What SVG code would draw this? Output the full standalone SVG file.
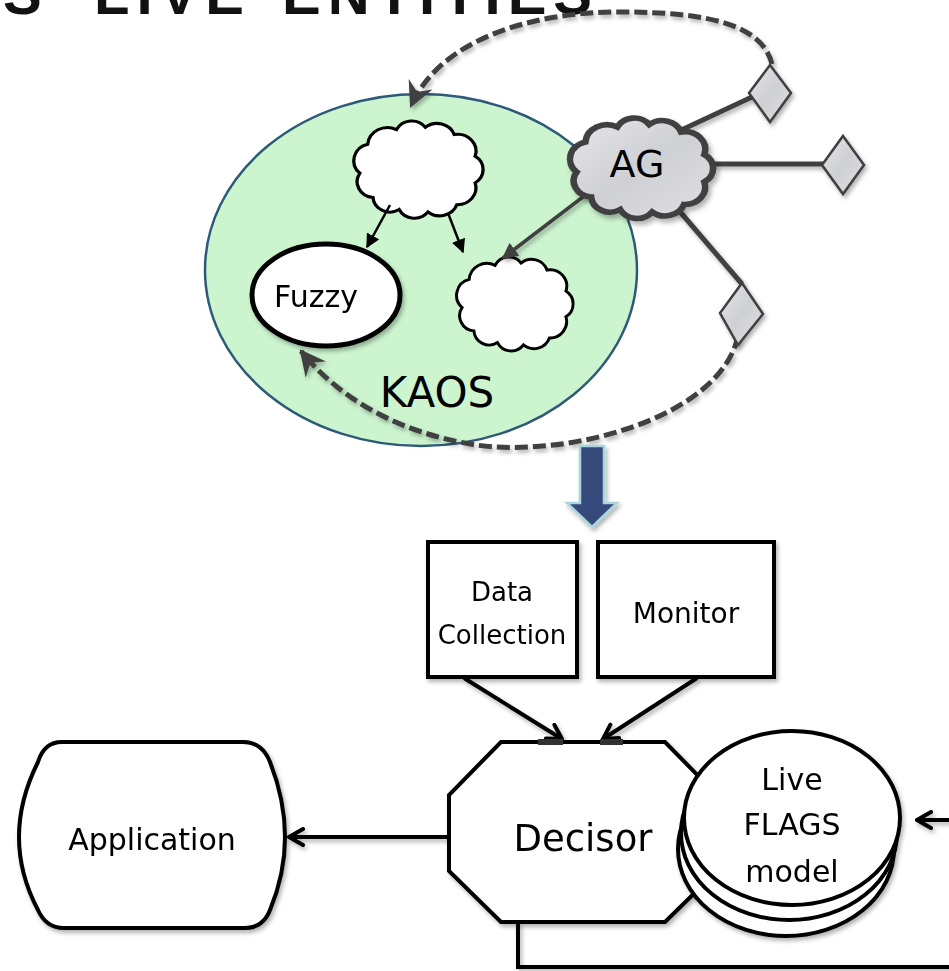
<svg xmlns="http://www.w3.org/2000/svg" width="949" height="971" viewBox="0 0 949 971">
  <style>
    .lbl { font-family: "DejaVu Sans", "Liberation Sans", sans-serif; fill: #000; text-anchor: middle; }
    .box { fill: #fff; stroke: #000; stroke-width: 4; }
    .conn { fill: none; stroke: #000; stroke-width: 4; }
    .agline { fill: none; stroke: #404040; stroke-width: 5; }
    .dash { fill: none; stroke: #404040; stroke-width: 5; stroke-dasharray: 13 5; }
    .marble { fill: url(#marbleFill); stroke: #404040; }
  </style>
  <defs>
    <linearGradient id="marbleFill" x1="0" y1="0" x2="1" y2="1">
      <stop offset="0" stop-color="#e6e6ea"/>
      <stop offset="0.5" stop-color="#cfd0d4"/>
      <stop offset="1" stop-color="#e0e0e4"/>
    </linearGradient>
    <filter id="shadow" x="-10%" y="-10%" width="130%" height="130%">
      <feDropShadow dx="2" dy="3" stdDeviation="2" flood-color="#000" flood-opacity="0.3"/>
    </filter>
    <path id="cloud" d="M6 44 A14 14 0 0 1 12 20 A15 15 0 0 1 34 8 A13 13 0 0 1 56 6 A14 14 0 0 1 78 12 A14 14 0 0 1 94 30 A13 13 0 0 1 94 52 A14 14 0 0 1 80 70 A14 14 0 0 1 58 76 A13 13 0 0 1 36 74 A13 13 0 0 1 16 64 A13 13 0 0 1 6 44 Z"/>
    <marker id="tri" viewBox="0 0 10 10" refX="9" refY="5" markerUnits="userSpaceOnUse" markerWidth="14" markerHeight="14" orient="auto">
      <path d="M0 0 L10 5 L0 10 Z" fill="#000"/>
    </marker>
    <marker id="triGray" viewBox="0 0 10 10" refX="9" refY="5" markerUnits="userSpaceOnUse" markerWidth="16" markerHeight="16" orient="auto">
      <path d="M0 0 L10 5 L0 10 Z" fill="#404040"/>
    </marker>
    <marker id="stealth" viewBox="0 0 12 12" refX="11" refY="6" markerUnits="userSpaceOnUse" markerWidth="26" markerHeight="26" orient="auto">
      <path d="M0 0 L12 6 L0 12 L4 6 Z" fill="#404040"/>
    </marker>
    <marker id="chev" viewBox="0 0 10 10" refX="8.5" refY="5" markerUnits="userSpaceOnUse" markerWidth="20" markerHeight="20" orient="auto">
      <path d="M1.5 1 L8.5 5 L1.5 9" fill="none" stroke="#000" stroke-width="2" stroke-linecap="round" stroke-linejoin="round"/>
    </marker>
  </defs>

  <rect width="949" height="971" fill="#fff"/>

  <!-- slide title, cut by the top edge -->
  <text y="14" font-family="Liberation Sans, sans-serif" font-weight="900" font-size="58" letter-spacing="7" fill="#111"><tspan x="-46">AS</tspan><tspan x="94">LIVE</tspan><tspan x="282">ENTITIES</tspan></text>

  <!-- KAOS goal model -->
  <g id="kaos">
    <ellipse cx="421" cy="270" rx="216" ry="176" fill="#ccf5cf" stroke="#2e5a7a" stroke-width="2.5"/>
    <text class="lbl" x="437" y="407" font-size="42">KAOS</text>
  </g>

  <g id="goal-top">
    <use href="#cloud" transform="translate(352 120) scale(1.31 1.21)" fill="#fff" stroke="#000" stroke-width="2.5" vector-effect="non-scaling-stroke"/>
  </g>

  <g id="goal-right">
    <use href="#cloud" transform="translate(455 256) scale(1.18 1.17)" fill="#fff" stroke="#000" stroke-width="2.5" vector-effect="non-scaling-stroke"/>
  </g>

  <g id="fuzzy" filter="url(#shadow)">
    <ellipse cx="326" cy="295" rx="74" ry="51" fill="#fff" stroke="#000" stroke-width="5"/>
    <text class="lbl" x="316" y="307" font-size="30">Fuzzy</text>
  </g>

  <!-- connectors -->
  <g id="connectors">
    <line x1="390" y1="205" x2="367" y2="247" stroke="#000" stroke-width="2.5" marker-end="url(#tri)"/>
    <line x1="448" y1="213" x2="463" y2="252" stroke="#000" stroke-width="2.5" marker-end="url(#tri)"/>

    <g filter="url(#shadow)">
      <line class="agline" x1="660" y1="140" x2="752" y2="97"/>
      <line class="agline" x1="690" y1="164" x2="823" y2="164"/>
      <line class="agline" x1="670" y1="200" x2="742" y2="284"/>
      <line x1="592" y1="190" x2="503" y2="258" stroke="#404040" stroke-width="3.5" marker-end="url(#triGray)"/>
    </g>

    <g filter="url(#shadow)">
      <path class="dash" d="M772 64 C762 25 710 12 620 12 C530 12 440 40 411 106" marker-end="url(#stealth)"/>
      <path class="dash" d="M738 336 C720 420 560 460 470 444 C400 432 340 400 301 351" marker-end="url(#stealth)"/>
    </g>

    <!-- refinement into the runtime side -->
    <polygon points="580,446 604,446 604,503 617,503 592,527 567,503 580,503" fill="#34497a" stroke="#a9d6dc" stroke-width="2.5" filter="url(#shadow)"/>

    <g filter="url(#shadow)">
      <line class="conn" x1="464" y1="678" x2="562" y2="739" marker-end="url(#chev)"/>
      <line class="conn" x1="697" y1="678" x2="603" y2="739" marker-end="url(#chev)"/>
      <line class="conn" x1="449" y1="837" x2="289" y2="837" marker-end="url(#chev)"/>
      <polyline class="conn" points="518,922 518,967 955,967"/>
      <line class="conn" x1="955" y1="820" x2="917" y2="820" marker-end="url(#chev)"/>
    </g>
  </g>

  <g id="ag">
    <use href="#cloud" transform="translate(568 117) scale(1.45 1.25)" class="marble" stroke-width="4.5" vector-effect="non-scaling-stroke" filter="url(#shadow)"/>
    <text class="lbl" x="637" y="177" font-size="38">AG</text>
  </g>

  <g id="diamonds" class="marble" stroke-width="2.5" filter="url(#shadow)">
    <polygon id="obstacle-1" points="770,65 791,93 770,122 749,93"/>
    <polygon id="obstacle-2" points="843,136 864,165 843,194 822,165"/>
    <polygon id="obstacle-3" points="742,283 763,314 738,345 720,313"/>
  </g>

  <g id="data-collection" filter="url(#shadow)">
    <rect class="box" x="428" y="542" width="149" height="135"/>
    <text class="lbl" x="502" y="601" font-size="26">Data</text>
    <text class="lbl" x="502" y="644" font-size="26">Collection</text>
  </g>

  <g id="monitor" filter="url(#shadow)">
    <rect class="box" x="598" y="542" width="176" height="135"/>
    <text class="lbl" x="686" y="623" font-size="28">Monitor</text>
  </g>

  <g id="application" filter="url(#shadow)">
    <path class="box" d="M62 742 H243 Q262 742 270 762 Q300 838 270 910 Q263 928 245 928 H64 Q46 928 38 910 Q0 838 38 762 Q44 742 62 742 Z"/>
    <text class="lbl" x="152" y="850" font-size="30">Application</text>
  </g>

  <g id="decisor" filter="url(#shadow)">
    <polygon class="box" points="501,742 665,742 717,795 717,871 665,922 501,922 449,871 449,795"/>
    <rect x="538" y="739" width="25" height="6" fill="#333"/>
    <rect x="600" y="739" width="23" height="6" fill="#333"/>
    <text class="lbl" x="583" y="851" font-size="37">Decisor</text>
  </g>

  <g id="live-flags-model" filter="url(#shadow)">
    <ellipse class="box" cx="786" cy="849" rx="108" ry="87"/>
    <ellipse class="box" cx="789" cy="833" rx="108" ry="87"/>
    <ellipse class="box" cx="792" cy="818" rx="108" ry="87"/>
    <text class="lbl" x="792" y="790" font-size="30">Live</text>
    <text class="lbl" x="792" y="835" font-size="30">FLAGS</text>
    <text class="lbl" x="792" y="882" font-size="30">model</text>
  </g>
</svg>
